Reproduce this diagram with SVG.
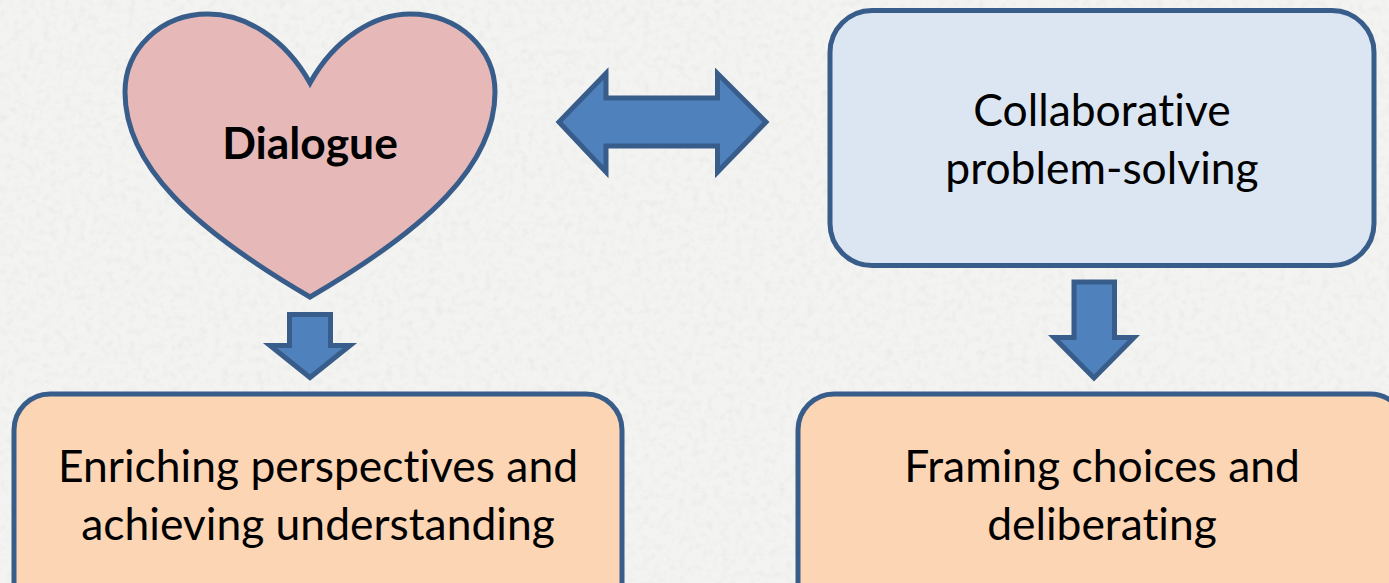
<svg xmlns="http://www.w3.org/2000/svg" width="1389" height="583" viewBox="0 0 1389 583">
<style>
.s{stroke:#385d8a;stroke-width:5;stroke-linejoin:miter}
.a{fill:#4f81bd}
.o{fill:#fcd5b5}
text{font-family:"Lato","Open Sans",sans-serif;font-size:44.4px;font-variant-ligatures:none;fill:#000;text-anchor:middle}
</style>
<defs>
<filter id="n" x="0" y="0" width="100%" height="100%">
<feTurbulence type="fractalNoise" baseFrequency="0.14" numOctaves="4" seed="4"/>
<feColorMatrix values="0 0 0 0 0.55  0 0 0 0 0.55  0 0 0 0 0.53  0.6 0.6 0 0 -0.55"/>
</filter>
</defs>
<rect id="background" width="1389" height="583" fill="#f3f3f1"/>
<rect width="1389" height="583" filter="url(#n)" opacity="0.4"/>
<g id="connectors">
<path class="s a" d="M559 122 L606 73.500 V98 H717.500 V73.500 L766 122 L717.500 172 V146 H606 V172 Z"/>
<path class="s a" d="M289.500 314.500 H330.500 V345.500 H350 L310 377.500 L270 345.500 H289.500 Z"/>
<path class="s a" d="M1074 282 H1114.500 V337.500 H1134 L1094 378 L1054 337.500 H1074 Z"/>
</g>
<g id="dialogue">
<path class="s" fill="#e6b9b8" d="M310 83 C285 38 245 14 208 14 C160 14 125 50 125 92 C125 165 192 228 310 297 C428 228 495 165 495 92 C495 50 460 14 410 14 C375 14 335 38 310 83 Z"/>
<text x="310" y="159" font-weight="700">Dialogue</text>
</g>
<g id="collaborative">
<rect class="s" x="830" y="10.500" width="544" height="255" rx="42" fill="#dce6f2"/>
<text x="1102" y="126">Collaborative</text>
<text x="1102" y="184">problem-solving</text>
</g>
<g id="enriching">
<rect class="s o" x="14" y="394" width="608" height="240" rx="36"/>
<text x="318" y="481.500">Enriching perspectives and</text>
<text x="318" y="539.500">achieving understanding</text>
</g>
<g id="framing">
<rect class="s o" x="798" y="394" width="608" height="240" rx="36"/>
<text x="1102" y="481.500">Framing choices and</text>
<text x="1102" y="539.500">deliberating</text>
</g>
</svg>
